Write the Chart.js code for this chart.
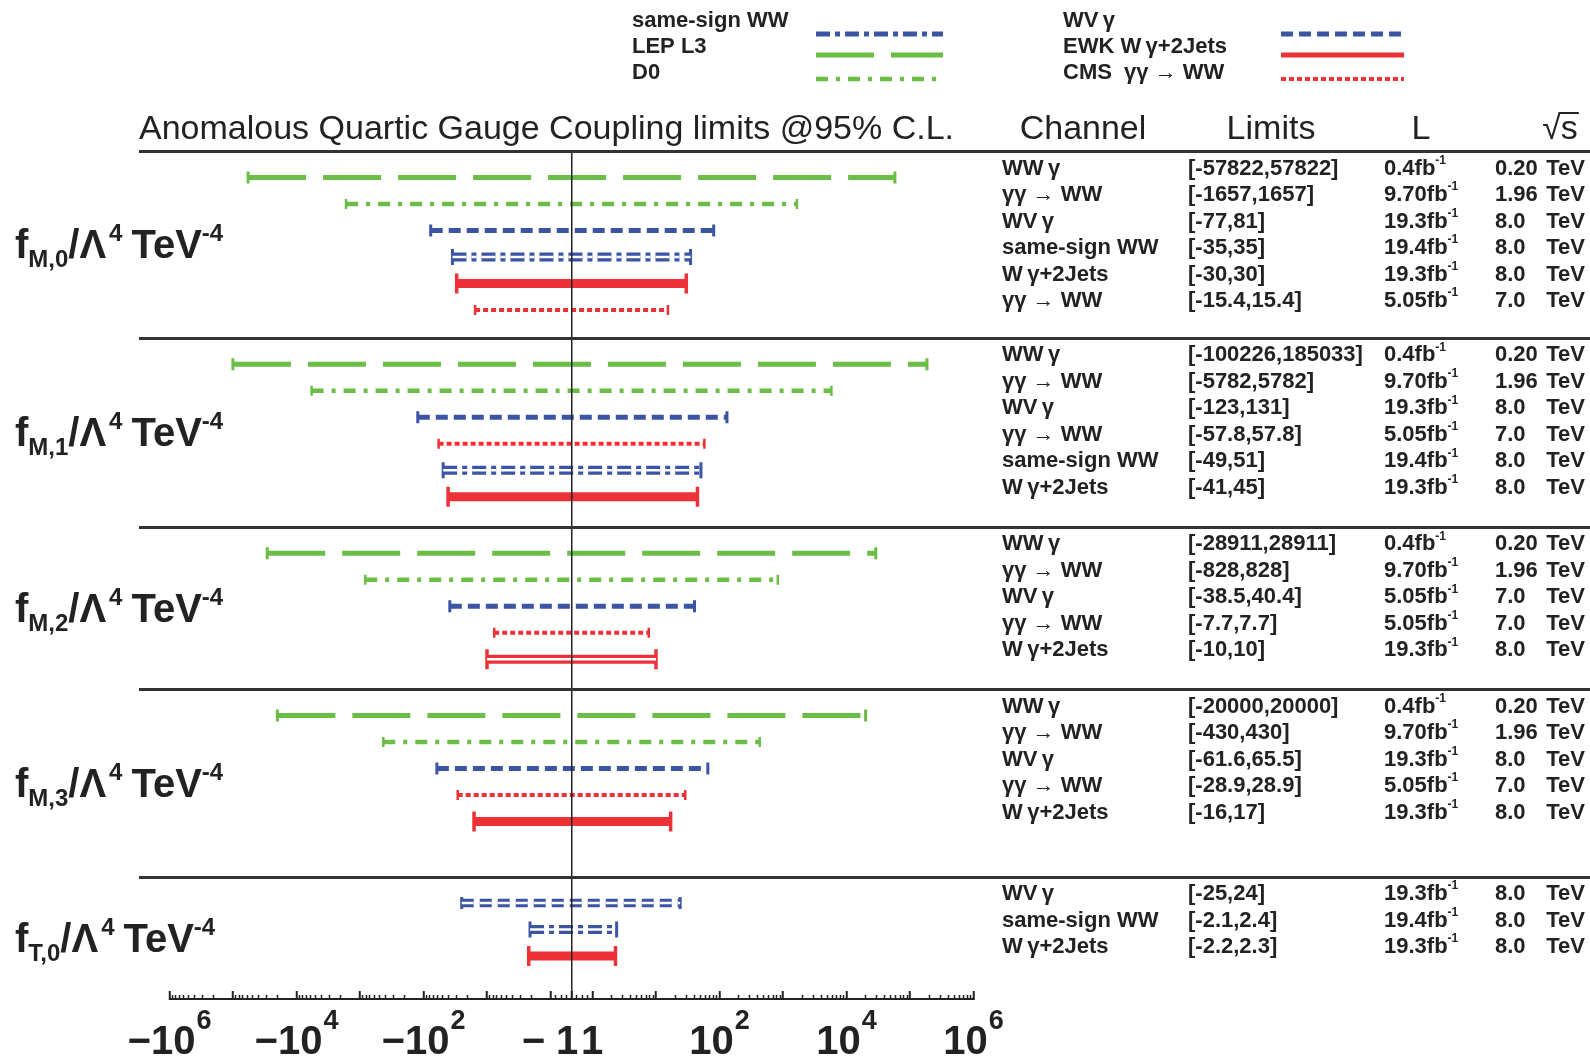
<!DOCTYPE html>
<html>
<head>
<meta charset="utf-8">
<title>Anomalous Quartic Gauge Coupling limits</title>
<script src="https://cdn.jsdelivr.net/npm/chart.js@4.4.1/dist/chart.umd.min.js"></script>
<style>
  html, body { margin: 0; padding: 0; background: #fff; }
  #wrap { position: relative; width: 1590px; height: 1061px; }
</style>
</head>
<body>
<div id="wrap"><canvas id="aqgc"></canvas></div>
<script>
// operators, one block of rows each
const operators = ['M,0', 'M,1', 'M,2', 'M,3', 'T,0'];

// experiments (legend entries)
const seriesNames = ['same-sign WW', 'LEP L3', 'D0', 'WV\u2009γ', 'EWK W\u2009γ+2Jets', 'CMS  γγ → WW'];

// one entry per limit, top to bottom
const rowOperator = [0, 0, 0, 0, 0, 0,  1, 1, 1, 1, 1, 1,  2, 2, 2, 2, 2,  3, 3, 3, 3, 3,  4, 4, 4];
const rowSeries   = [1, 2, 3, 0, 4, 5,  1, 2, 3, 5, 0, 4,  1, 2, 3, 5, 4,  1, 2, 3, 5, 4,  3, 0, 4];
const rowChannel = [
  'WW\u2009γ', 'γγ → WW', 'WV\u2009γ', 'same-sign WW', 'W\u2009γ+2Jets', 'γγ → WW',
  'WW\u2009γ', 'γγ → WW', 'WV\u2009γ', 'γγ → WW', 'same-sign WW', 'W\u2009γ+2Jets',
  'WW\u2009γ', 'γγ → WW', 'WV\u2009γ', 'γγ → WW', 'W\u2009γ+2Jets',
  'WW\u2009γ', 'γγ → WW', 'WV\u2009γ', 'γγ → WW', 'W\u2009γ+2Jets',
  'WV\u2009γ', 'same-sign WW', 'W\u2009γ+2Jets'
];
const rowLower = [-57822, -1657, -77, -35, -30, -15.4,  -100226, -5782, -123, -57.8, -49, -41,
                  -28911, -828, -38.5, -7.7, -10,  -20000, -430, -61.6, -28.9, -16,  -25, -2.1, -2.2];
const rowUpper = [57822, 1657, 81, 35, 30, 15.4,  185033, 5782, 131, 57.8, 51, 45,
                  28911, 828, 40.4, 7.7, 10,  20000, 430, 65.5, 28.9, 17,  24, 2.4, 2.3];
const rowLumi = ['0.4', '9.70', '19.3', '19.4', '19.3', '5.05',  '0.4', '9.70', '19.3', '5.05', '19.4', '19.3',
                 '0.4', '9.70', '5.05', '5.05', '19.3',  '0.4', '9.70', '19.3', '5.05', '19.3',  '19.3', '19.4', '19.3'];
const rowEnergy = ['0.20', '1.96', '8.0', '8.0', '8.0', '7.0',  '0.20', '1.96', '8.0', '7.0', '8.0', '8.0',
                   '0.20', '1.96', '7.0', '7.0', '8.0',  '0.20', '1.96', '8.0', '7.0', '8.0',  '8.0', '8.0', '8.0'];

// axis ticks: decades carrying a major tick, decades that get a label, minor multipliers
const axisDecades = [0, 1, 2, 3, 4, 5, 6];
const labelledDecades = [0, 2, 4, 6];
const minorMultipliers = [2, 3, 4, 5, 6, 7, 8, 9];
const linearMinor = [0.25, 0.5, 0.75];

// ---------------------------------------------------------------------------

const FAMILY = '"Liberation Sans", Arial, Helvetica, sans-serif';
const INK = '#222';
const GREEN = '#6abd45', BLUE = '#3b54a4', RED = '#ed3237';

const seriesStyle = [
  { color: BLUE,  width: 9,   dash: [14, 5, 5, 5], cap: 8,  capWidth: 3,   inner: true }, // same-sign WW
  { color: GREEN, width: 5,   dash: [58, 17],      cap: 6,  capWidth: 3 },                // LEP L3
  { color: GREEN, width: 4.5, dash: [12, 8, 4, 8], cap: 5,  capWidth: 2.5 },              // D0
  { color: BLUE,  width: 5,   dash: [12, 6],       cap: 6,  capWidth: 3 },                // WVγ
  { color: RED,   width: 9,   dash: [],            cap: 10, capWidth: 3.5 },              // EWK Wγ+2Jets
  { color: RED,   width: 4,   dash: [5, 3],        cap: 5,  capWidth: 2.5 }               // CMS γγ → WW
];
// single rows drawn as an outline as well (operator, series)
const outlinedRows = [[2, 4], [4, 3]];
const OUTLINE_WIDTH = 8.5;

// symmetric log: linear inside |x| < 1, one decade = DECADE linear widths
const DECADE = 63.5 / 21;
function symlog(v) {
  const a = Math.abs(v);
  return Math.sign(v) * (a < 1 ? a : 1 + DECADE * Math.log10(a));
}
function symexp(t) {
  const a = Math.abs(t);
  return Math.sign(t) * (a < 1 ? a : Math.pow(10, (a - 1) / DECADE));
}

class SymLogScale extends Chart.LinearScale {
  static id = 'symlog';
  static defaults = {};
  configure() {
    super.configure();
    this._tMin = symlog(this.min);
    this._tRange = symlog(this.max) - this._tMin;
  }
  getPixelForValue(value) {
    if (value === null || value === undefined || isNaN(value)) return NaN;
    return this.getPixelForDecimal((symlog(value) - this._tMin) / this._tRange);
  }
  getValueForPixel(pixel) {
    return symexp(this._tMin + this.getDecimalForPixel(pixel) * this._tRange);
  }
}
Chart.register(SymLogScale);

// tick values
const majorValues = [0];
axisDecades.forEach(k => majorValues.push(Math.pow(10, k), -Math.pow(10, k)));
const minorValues = [];
linearMinor.forEach(v => minorValues.push(v, -v));
axisDecades.slice(0, -1).forEach(k => minorMultipliers.forEach(m => {
  minorValues.push(m * Math.pow(10, k), -m * Math.pow(10, k));
}));

// label of a major tick as [mantissa, exponent]; null when unlabelled
function tickParts(v) {
  if (v === 0) return null;
  const k = Math.round(Math.log10(Math.abs(v)));
  if (!labelledDecades.includes(k)) return null;
  if (k === 0) return [v < 0 ? '\u2212 1' : '1', ''];
  return [(v < 0 ? '\u2212' : '') + '10', String(k)];
}

// vertical layout, in row heights: header rule at 0, x axis at the end
const groupTail = [1.05, 1.13, 1.12, 2.08, 1.62];
const rowY = [];
const ruleY = [0];
let yCursor = 0;
operators.forEach((op, g) => {
  rowOperator.forEach((o, i) => {
    if (o === g) { yCursor += 1; rowY[i] = yCursor; }
  });
  yCursor += groupTail[g];
  ruleY.push(yCursor);
});
const yEnd = yCursor;

// each limit is a two-point segment followed by a gap
function segments(rows) {
  const pts = [];
  rows.forEach(i => {
    pts.push({ x: rowLower[i], y: rowY[i] }, { x: rowUpper[i], y: rowY[i] }, { x: null, y: null });
  });
  return pts;
}

const datasets = [];
seriesNames.forEach((name, s) => {
  const st = seriesStyle[s];
  const rows = rowSeries.map((r, i) => r === s ? i : -1).filter(i => i >= 0);
  const hollow = rows.filter(i => st.inner ||
    outlinedRows.some(([op, se]) => op === rowOperator[i] && se === s));
  datasets.push({
    label: name,
    data: segments(rows),
    borderColor: st.color,
    borderWidth: st.width,
    borderDash: st.dash,
    borderCapStyle: 'butt',
    segment: {
      borderWidth: c => (!st.inner && hollow.includes(rows[Math.floor(c.p0DataIndex / 3)])
        ? Math.max(st.width, OUTLINE_WIDTH) : undefined)
    },
    pointStyle: 'line',
    pointRotation: 90,
    pointRadius: st.cap,
    pointHoverRadius: st.cap,
    pointBorderWidth: st.capWidth,
    pointBorderColor: st.color,
    pointBackgroundColor: st.color,
    fill: false,
    tension: 0
  });
  // white core for the outlined bars
  if (hollow.length) {
    datasets.push({
      label: name + ' core',
      data: segments(hollow),
      borderColor: '#fff',
      borderWidth: 2.5,
      borderDash: st.dash,
      borderCapStyle: 'butt',
      pointRadius: 0,
      fill: false,
      order: -1
    });
  }
});

function font(size, bold) { return (bold ? 'bold ' : '') + size + 'px ' + FAMILY; }

// text pieces laid left to right, each with its own size and vertical shift
function runsWidth(ctx, runs) {
  let w = 0;
  runs.forEach(r => {
    ctx.font = font(r.size, r.bold);
    w += ctx.measureText(r.text).width + (r.gap || 0);
  });
  return w;
}
function drawRuns(ctx, runs, x, y) {
  runs.forEach(r => {
    ctx.font = font(r.size, r.bold);
    ctx.fillText(r.text, x, y + (r.dy || 0));
    x += ctx.measureText(r.text).width + (r.gap || 0);
  });
  return x;
}

function hline(ctx, x0, x1, y) {
  ctx.beginPath();
  ctx.moveTo(x0, y);
  ctx.lineTo(x1, y);
  ctx.stroke();
}

const tablePlugin = {
  id: 'aqgcTable',
  afterDraw(chart) {
    const ctx = chart.ctx;
    const y = chart.scales.y;
    const x = chart.scales.x;
    ctx.save();
    ctx.fillStyle = INK;
    ctx.textAlign = 'left';

    // rules across plot and table
    ctx.strokeStyle = '#333';
    ctx.lineWidth = 3;
    ruleY.slice(0, -1).forEach(v => hline(ctx, 139, 1590, Math.round(y.getPixelForValue(v)) + 0.5));

    // x tick labels with raised exponents
    ctx.textBaseline = 'alphabetic';
    const labelBase = y.getPixelForValue(yEnd) + 55;
    x.ticks.forEach(t => {
      const p = tickParts(t.value);
      if (!p) return;
      const runs = [{ text: p[0], size: 40, bold: true, gap: 1 }];
      if (p[1]) runs.push({ text: p[1], size: 27, bold: true, dy: -25 });
      const w = runsWidth(ctx, runs);
      drawRuns(ctx, runs, x.getPixelForValue(t.value) - w / 2, labelBase);
    });

    // header row
    ctx.font = font(34, false);
    ctx.fillText('Anomalous Quartic Gauge Coupling limits @95% C.L.', 139, 139);
    ctx.textAlign = 'center';
    ctx.fillText('Channel', 1083, 139);
    ctx.fillText('Limits', 1271, 139);
    ctx.fillText('L', 1421, 139);
    ctx.fillText('√s', 1560, 139);
    const wAll = ctx.measureText('√s').width, wRoot = ctx.measureText('√').width;
    ctx.lineWidth = 2;
    ctx.strokeStyle = INK;
    hline(ctx, 1560 - wAll / 2 + wRoot - 2, 1560 + wAll / 2 + 1, 113);
    ctx.textAlign = 'left';

    // operator labels, centred between their rules
    operators.forEach((op, g) => {
      const mid = (y.getPixelForValue(ruleY[g]) + y.getPixelForValue(ruleY[g + 1])) / 2;
      drawRuns(ctx, [
        { text: 'f', size: 40, bold: true },
        { text: op, size: 24, bold: true, dy: 9 },
        { text: '/Λ', size: 40, bold: true, gap: 3 },
        { text: '4', size: 24, bold: true, dy: -17, gap: 9 },
        { text: 'TeV', size: 40, bold: true },
        { text: '-4', size: 24, bold: true, dy: -17 }
      ], 15, mid + 14);
    });

    // table body
    ctx.textBaseline = 'middle';
    rowChannel.forEach((ch, i) => {
      const py = y.getPixelForValue(rowY[i]) - 9;
      ctx.font = font(22, true);
      ctx.fillText(ch, 1002, py);
      ctx.fillText('[' + rowLower[i] + ',' + rowUpper[i] + ']', 1188, py);
      ctx.fillText(rowEnergy[i], 1495, py);
      ctx.textAlign = 'right';
      ctx.fillText('TeV', 1585, py);
      ctx.textAlign = 'left';
      drawRuns(ctx, [
        { text: rowLumi[i] + 'fb', size: 22, bold: true },
        { text: '-1', size: 12, bold: true, dy: -8 }
      ], 1384, py);
    });

    // legend: two columns of three
    const textX = [632, 1063], lineX = [[816, 943], [1281, 1404]];
    const textY = [21, 47, 73], lineY = [34, 55, 79];
    seriesNames.forEach((name, s) => {
      const col = Math.floor(s / 3), row = s % 3;
      const st = seriesStyle[s];
      ctx.font = font(22, true);
      ctx.fillStyle = INK;
      ctx.fillText(name, textX[col], textY[row]);
      ctx.strokeStyle = st.color;
      ctx.lineWidth = Math.min(st.width, 5);
      ctx.setLineDash(st.dash);
      hline(ctx, lineX[col][0], lineX[col][1], lineY[row]);
      ctx.setLineDash([]);
    });
    ctx.restore();
  }
};

Chart.defaults.font.family = FAMILY;
Chart.defaults.color = INK;

new Chart(document.getElementById('aqgc'), {
  type: 'line',
  data: { datasets },
  options: {
    responsive: true,
    maintainAspectRatio: false,
    animation: false,
    events: [],
    layout: { padding: { left: 169.5, right: 616.5, top: 151, bottom: 62 } },
    plugins: {
      legend: { display: false },
      tooltip: { enabled: false }
    },
    scales: {
      x: {
        type: 'symlog',
        axis: 'x',
        min: -1e6,
        max: 1e6,
        bounds: 'data',
        position: { y: yEnd },
        afterBuildTicks: scale => { scale.ticks = majorValues.map(value => ({ value })); },
        grid: {
          z: 1,
          color: c => (c.tick && c.tick.value === 0 ? INK : 'rgba(0,0,0,0)'),
          lineWidth: 1.5,
          tickColor: INK,
          tickWidth: 2,
          tickLength: -9
        },
        border: { display: true, color: INK, width: 2, z: 1 },
        ticks: { display: false, autoSkip: false, maxRotation: 0, callback: () => '' }
      },
      xMinor: {
        type: 'symlog',
        axis: 'x',
        min: -1e6,
        max: 1e6,
        bounds: 'data',
        position: { y: yEnd },
        afterBuildTicks: scale => { scale.ticks = minorValues.map(value => ({ value })); },
        grid: {
          z: 1,
          drawOnChartArea: false,
          tickColor: INK,
          tickWidth: 1.5,
          tickLength: -4
        },
        border: { display: false },
        ticks: { display: false, callback: () => '' }
      },
      y: {
        type: 'linear',
        min: 0,
        max: yEnd,
        reverse: true,
        display: false
      }
    }
  },
  plugins: [tablePlugin]
});
</script>
</body>
</html>
